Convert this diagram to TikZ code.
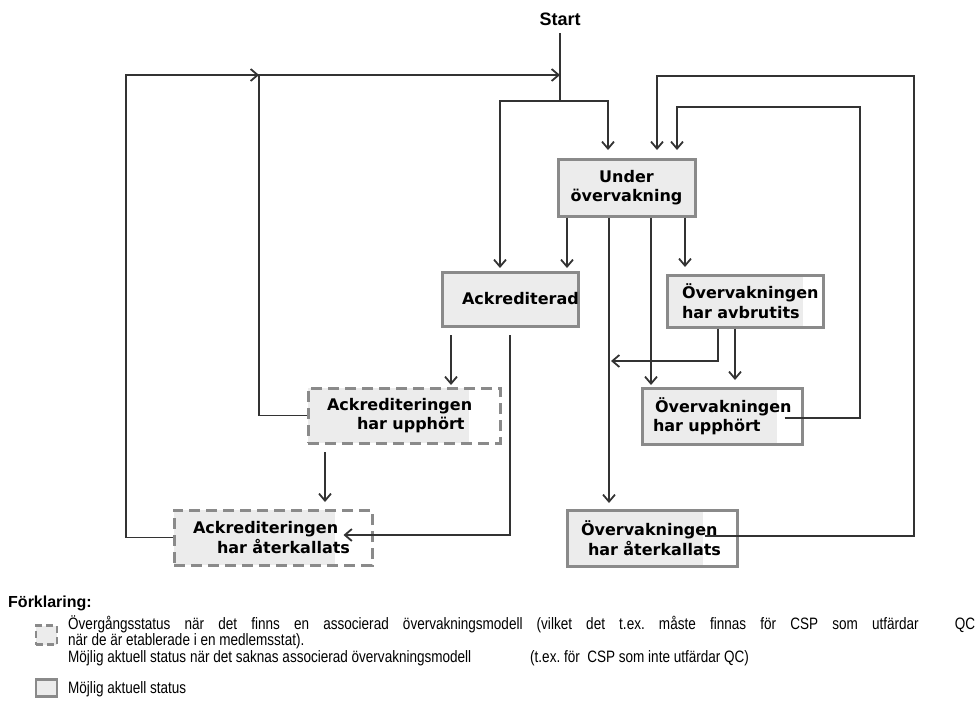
\documentclass[tikz,border=0pt]{standalone}
\usepackage{fontspec}
\setmainfont{Liberation Sans}
\newfontfamily\boxfont{DejaVu Sans}
\newfontfamily\narrowfont[FakeStretch=0.82]{Liberation Sans}
\usetikzlibrary{arrows.meta}
\definecolor{lc}{HTML}{333333}
\definecolor{bc}{HTML}{8A8A8A}
\definecolor{bf}{HTML}{ECECEC}
\begin{document}
\frenchspacing
\begin{tikzpicture}[x=1pt,y=-1pt,
  ln/.style={draw=lc, line width=1.8pt},
  arr/.style={ln, -{Straight Barb[length=7pt,width=12pt]}},
  stbox/.style={rectangle, draw=bc, line width=3pt, inner sep=0pt,
    font=\boxfont\bfseries\fontsize{16}{19.5}\selectfont, text=black},
  boxdim/.style n args={2}{minimum width=#1, text width=#1, minimum height=#2, align=left},
  fullfill/.style={fill=bf},
  partfill/.style={fill=white, path picture={\fill[bf] (path picture bounding box.south west) rectangle ([xshift=-#1]path picture bounding box.north east);}},
  dashbox/.style={stbox, dash pattern=on 11pt off 6pt},
  legtext/.style={anchor=base west, inner sep=0pt, font=\narrowfont\fontsize{16.5}{16.5}\selectfont},
]
\useasboundingbox (0,0) rectangle (979,704);

% ---- nodes ----
\node[anchor=base, inner sep=0pt, font=\bfseries\fontsize{18}{20}\selectfont] (start) at (560,25) {Start};

\node[stbox, fullfill, minimum width=137pt, minimum height=57pt, align=center] (Under) at (626.5,187.5) {Under\\övervakning};
\node[stbox, fullfill, boxdim={136pt}{54pt}] (Ack) at (510,299) {\hspace*{20pt}\mbox{Ackrediterad}};
\node[stbox, partfill=20pt, boxdim={156pt}{52pt}] (Avbr) at (745,301) {\hspace*{15pt}\mbox{Övervakningen}\\\hspace*{15pt}\mbox{har avbrutits}};
\node[stbox, partfill=25pt, boxdim={160pt}{56pt}] (OvUpp) at (722,416) {\hspace*{13pt}\mbox{Övervakningen}\\\hspace*{11pt}\mbox{har upphört}};
\node[stbox, partfill=34pt, boxdim={170pt}{56pt}] (OvAter) at (652,538) {\hspace*{14pt}\mbox{Övervakningen}\\\hspace*{21pt}\mbox{har återkallats}};
\node[dashbox, partfill=31pt, boxdim={192pt}{55pt}] (AckUpp) at (404,415.5) {\hspace*{19pt}\mbox{Ackrediteringen}\\\hspace*{49pt}\mbox{har upphört}};
\node[dashbox, partfill=37pt, boxdim={198pt}{55pt}] (AckAter) at (273,537.5) {\hspace*{19pt}\mbox{Ackrediteringen}\\\hspace*{43pt}\mbox{har återkallats}};

% ---- helper coordinates ----
\coordinate (jS) at (560,101);
\coordinate (jL) at (126,75);
\coordinate (jM) at (259,75);
\coordinate (jT) at (560,75);
\coordinate (oR) at (914,76);
\coordinate (iR) at (860,107);
\coordinate (jA) at (611,361);

% ---- connectors ----
\draw[ln] ([yshift=-8pt]start.south) -- (jS);
\draw[arr] (AckAter.west) -| (jL) -- (jM);
\draw[arr] (AckUpp.west) -| (jM) -- (jT);
\draw[arr, shorten >=2.5pt] (jS) -| (500,0 |- Ack.north);
\draw[arr, shorten >=7.5pt] (jS) -| (608,0 |- Under.north);
\draw[arr, shorten >=7.5pt] ([xshift=-34pt,yshift=2pt]OvAter.east) -| (oR) -| (657,0 |- Under.north);
\draw[arr, shorten >=7.5pt] ([xshift=-19pt,yshift=-2pt]OvUpp.east) -| (iR) -| (677,0 |- Under.north);

\draw[arr, shorten >=2.5pt] (567,0 |- Under.south) -- (567,0 |- Ack.north);
\draw[arr, shorten >=5.5pt] (609,0 |- Under.south) -- (609,0 |- OvAter.north);
\draw[arr, shorten >=1.5pt] (651,0 |- Under.south) -- (651,0 |- OvUpp.north);
\draw[arr, shorten >=6.5pt] (685,0 |- Under.south) -- (685,0 |- Avbr.north);

\draw[arr] (718,0 |- Avbr.south) |- (jA);
\draw[arr, shorten >=6.5pt] (735,0 |- Avbr.south) -- (735,0 |- OvUpp.north);

\draw[arr, shorten <=7.5pt, shorten >=1.5pt] (451,0 |- Ack.south) -- (451,0 |- AckUpp.north);
\draw[arr, shorten <=7.5pt] (510,0 |- Ack.south) |- ([xshift=-30pt,yshift=2.5pt]AckAter.east);
\draw[arr, shorten <=7.5pt, shorten >=6.5pt] (325,0 |- AckUpp.south) -- (325,0 |- AckAter.north);

% ---- legend ----
\node[anchor=base west, inner sep=0pt, font=\bfseries\fontsize{16}{16}\selectfont] (legH) at (8,607) {Förklaring:};
\node[rectangle, fill=bf, draw=bc, line width=2.5pt, dash pattern=on 7pt off 4pt, minimum width=21pt, minimum height=19pt, inner sep=0pt] (iconD) at (46.5,635) {};
\node[legtext] (leg1) at (68,629) {\makebox[907pt][s]{Övergångsstatus när det finns en associerad övervakningsmodell (vilket det t.ex. måste finnas för CSP som utfärdar\hspace{22pt} QC}};
\node[legtext] (leg2) at (68,645.5) {när de är etablerade i en medlemsstat).};
\node[legtext] (leg3) at (68,662) {Möjlig aktuell status när det saknas associerad övervakningsmodell};
\node[legtext] (leg4) at (530,662) {(t.ex. för\ \ CSP som inte utfärdar QC)};
\node[rectangle, fill=bf, draw=bc, line width=2.5pt, minimum width=21pt, minimum height=17pt, inner sep=0pt] (iconS) at (46.5,688) {};
\node[legtext] (leg5) at (68,693) {Möjlig aktuell status};
\end{tikzpicture}
\end{document}
